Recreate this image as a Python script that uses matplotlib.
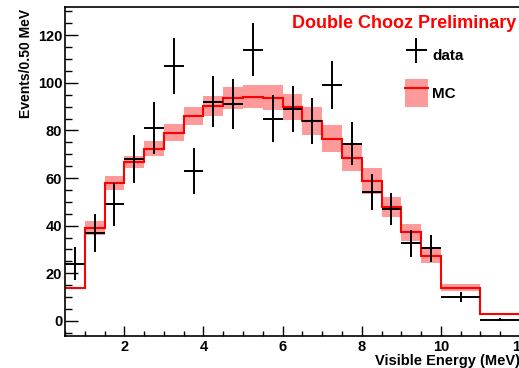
import matplotlib

matplotlib.use("Agg")
import matplotlib.pyplot as plt
import numpy as np
from matplotlib.lines import Line2D
from matplotlib.patches import Patch
from matplotlib.legend_handler import HandlerErrorbar, HandlerTuple
from matplotlib.ticker import MultipleLocator

plt.rcParams["font.family"] = ["Liberation Sans", "DejaVu Sans"]
plt.rcParams["font.weight"] = "bold"
plt.rcParams["axes.labelweight"] = "bold"

# bin edges (MeV): 0.5 MeV bins up to 10, then two 1 MeV bins
energy_edges = [0.5, 1.0, 1.5, 2.0, 2.5, 3.0, 3.5, 4.0, 4.5, 5.0, 5.5, 6.0,
                6.5, 7.0, 7.5, 8.0, 8.5, 9.0, 9.5, 10.0, 11.0, 12.0]
data_counts = [24, 37, 49, 68, 81, 107, 63, 92, 91, 114, 85, 89, 84, 99,
               74.5, 54, 47, 32.5, 30.5, 10, 0.5]
data_err = [7, 8, 9, 10, 11, 11.7, 9.7, 10.7, 10.5, 11.3, 9.8, 9.8, 9.5, 10,
            9, 7.5, 6.8, 5.8, 5.6, 2, 0.7]
mc_counts = [13.7, 39, 58, 66.8, 72.4, 79, 86, 90.1, 93.8, 94.2, 93.8, 89.9,
             83.9, 76.6, 68.5, 58.6, 47.9, 37.2, 27.4, 14, 3]
mc_err = [0, 3, 3, 2.5, 3, 3.5, 3.7, 4.2, 4.6, 4.9, 5.2, 5.4, 5.8, 5.6, 5.4,
          5.5, 4.2, 3.5, 3, 1.6, 0.4]

edges = np.array(energy_edges)
widths = np.diff(edges)
centers = edges[:-1] + widths / 2
mc = np.array(mc_counts)
mce = np.array(mc_err)

fig = plt.figure(figsize=(5.19, 3.68), dpi=100)
ax = fig.add_axes([65 / 519, 1 - 336.3 / 368, (520 - 65) / 519, (336.3 - 6.7) / 368])

band_color = "#ff9a9a"
ax.bar(edges[:-1], 2 * mce, width=widths, bottom=mc - mce, align="edge",
       color=band_color, linewidth=0, zorder=1)
ax.stairs(mc, edges, color="#ff0000", linewidth=1.5, baseline=None, zorder=2)
eb = ax.errorbar(centers, data_counts, yerr=data_err, xerr=widths / 2,
                 fmt="none", ecolor="black", elinewidth=1.4, capsize=0, zorder=3)

ax.set_xlim(0.5, 12)
ax.set_ylim(-6.5, 132)
ax.xaxis.set_major_locator(MultipleLocator(2))
ax.xaxis.set_minor_locator(MultipleLocator(0.5))
ax.yaxis.set_major_locator(MultipleLocator(20))
ax.yaxis.set_minor_locator(MultipleLocator(5))
ax.tick_params(which="both", direction="in", top=False, right=False,
               labelsize=10.5, width=1)
ax.tick_params(axis="y", which="major", length=9.4, pad=2)
ax.tick_params(axis="y", which="minor", length=5)
ax.tick_params(axis="x", which="major", length=7, pad=3)
ax.tick_params(axis="x", which="minor", length=3.6)
for s in ax.spines.values():
    s.set_linewidth(1.2)

ax.set_ylabel("Events/0.50 MeV", fontsize=10, loc="top")
ax.yaxis.set_label_coords(-0.07, 0.992)
ax.set_xlabel("Visible Energy (MeV)", fontsize=10.5, loc="right")
ax.xaxis.set_label_coords(1.0, -0.055)
ax.xaxis.label.set_va("top")

ax.text(0.992, 0.975, "Double Chooz Preliminary", transform=ax.transAxes,
        ha="right", va="top", color="#ff0000", fontsize=13, fontweight="bold")

mc_handle = (Patch(facecolor=band_color, linewidth=0),
             Line2D([], [], color="#ff0000", linewidth=1.5))
ax.legend([eb, mc_handle], ["data", "MC"], loc="upper left",
          bbox_to_anchor=(0.747, 0.896), frameon=False, fontsize=11,
          handlelength=1.5, handleheight=2.5, handletextpad=0.3,
          labelspacing=0.6, borderpad=0, borderaxespad=0,
          handler_map={type(eb): HandlerErrorbar(xerr_size=0.7, yerr_size=0.8),
                       tuple: HandlerTuple(ndivide=1)})

fig.savefig("out.png", dpi=100)
